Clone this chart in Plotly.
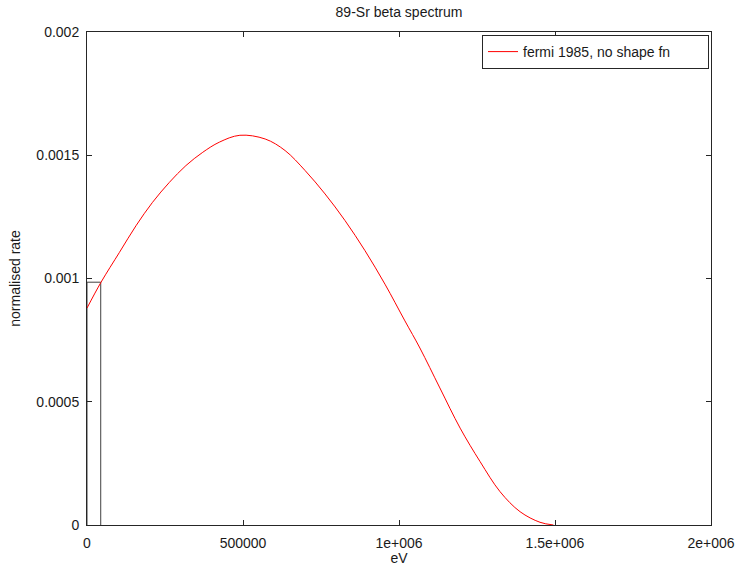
import plotly.graph_objects as go

# Data (energy in eV, normalised rate)
energy_eV = [0, 45000, 104000, 157000, 210000, 264000, 317000, 371000, 424000,
             490000, 571000, 635000, 699000, 763000, 827000, 891000,
             955000, 1019000, 1067000, 1131000, 1196000, 1260000, 1324000,
             1388000, 1452000, 1495000]
rate = [0.000880, 0.000985, 0.001106, 0.001214, 0.001309, 0.001390, 0.001458,
        0.001512, 0.001553, 0.001581, 0.001566, 0.001519, 0.001438,
        0.001343, 0.001235, 0.001113, 0.000977, 0.000828, 0.000718, 0.000556,
        0.000393, 0.000257, 0.000135, 0.000054, 0.000011, 0.0]

# First histogram bin (drawn as stairs)
bin_edges = [0, 0, 44000, 44000]
bin_heights = [0, 0.000985, 0.000985, 0]

x_tickvals = [0, 500000, 1000000, 1500000, 2000000]
x_ticktext = ["0", "500000", "1e+006", "1.5e+006", "2e+006"]
y_tickvals = [0, 0.0005, 0.001, 0.0015, 0.002]
y_ticktext = ["0", "0.0005", "0.001", "0.0015", "0.002"]

FONT = "Liberation Sans, Arial, sans-serif"
INK = "#1a1a1a"

fig = go.Figure()
fig.add_trace(go.Scatter(x=bin_edges, y=bin_heights, mode="lines",
                         line=dict(color="#404040", width=1), showlegend=False,
                         hoverinfo="skip"))
fig.add_trace(go.Scatter(x=energy_eV, y=rate, mode="lines",
                         name="fermi 1985, no shape fn",
                         line=dict(color="#ff0000", width=1, shape="spline", smoothing=1.0)))

axis_common = dict(showline=True, linecolor="#262626", linewidth=1, mirror="ticks",
                   ticks="inside", ticklen=5, tickcolor="#262626", showgrid=False,
                   zeroline=False, automargin=False,
                   tickfont=dict(family=FONT, size=14, color=INK))

fig.update_layout(
    width=737, height=566,
    margin=dict(l=87, r=26, t=32, b=41, autoexpand=False),
    paper_bgcolor="white", plot_bgcolor="white",
    font=dict(family=FONT, size=14, color=INK),
    title=dict(text="89-Sr beta spectrum", x=0.5, xref="paper", xanchor="center",
               y=1 - 12 / 566, yref="container", yanchor="middle",
               font=dict(family=FONT, size=14, color=INK)),
    xaxis=dict(range=[0, 2000000], tickvals=x_tickvals, ticktext=x_ticktext,
               title=dict(text="eV", standoff=7, font=dict(family=FONT, size=14)),
               ticklabelstandoff=5, **axis_common),
    yaxis=dict(range=[0, 0.002], tickvals=y_tickvals, ticktext=y_ticktext,
               title=dict(text="normalised rate", standoff=12, font=dict(family=FONT, size=14)),
               ticklabelstandoff=4, **axis_common),
    legend=dict(x=(709 - 87) / 624, y=1 - 3 / 493, xanchor="right", yanchor="top",
                orientation="h", entrywidth=180, entrywidthmode="pixels",
                bordercolor="#262626", borderwidth=1, bgcolor="white",
                font=dict(family=FONT, size=14, color=INK),
                itemwidth=30),
    showlegend=True,
)

fig.write_html("out.html", config={"displayModeBar": False},
               post_script="document.body.style.margin='0';document.body.style.padding='0';")
